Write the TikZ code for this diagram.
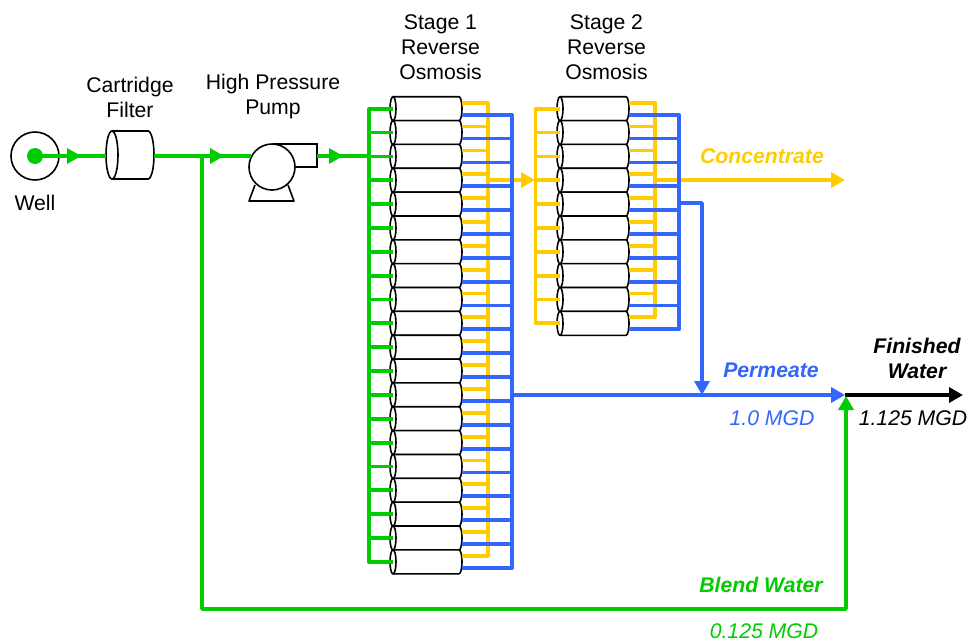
\documentclass[tikz,border=0pt]{standalone}
\usepackage{fontspec}
\setmainfont{Liberation Sans}
\usepackage{tikz}
\usetikzlibrary{arrows.meta}

\definecolor{feedgreen}{RGB}{0,204,0}
\definecolor{concyellow}{RGB}{255,204,0}
\definecolor{permblue}{RGB}{51,102,255}

\tikzset{
	pipe/.style={line width=3.8pt,line join=round},
	flow/.style={pipe,-{Triangle[length=14pt,width=15pt]}},
	unit/.style={draw=black,line width=1.6pt},
	lbl/.style={font=\fontsize{21.2}{25}\selectfont,align=center,inner sep=0pt},
	tag/.style={font=\fontsize{21.2}{25}\selectfont\itshape,inner sep=0pt},
	tagb/.style={font=\fontsize{21.2}{25}\selectfont\itshape\bfseries,align=center,inner sep=0pt},
	vessel/.pic={
		\draw[unit,fill=white] (0,-12) -- (66,-12) arc[start angle=90,end angle=-90,x radius=3pt,y radius=12pt] -- (0,12);
		\draw[unit,fill=white] (0,0) ellipse[x radius=3pt,y radius=12pt];
		\coordinate (-in) at (0,0);
		\coordinate (-con) at (68.6,-6);
		\coordinate (-per) at (68.6,6);
	},
	cartridge/.pic={
		\draw[unit,fill=white] (0,-24) -- (36,-24) arc[start angle=90,end angle=-90,x radius=6pt,y radius=24pt] -- (0,24);
		\draw[unit] (0,0) ellipse[x radius=6pt,y radius=24pt];
		\coordinate (-in) at (-6,1);
		\coordinate (-out) at (42,1);
	}
}

\begin{document}
\begin{tikzpicture}[x=1pt,y=-1pt]
		\useasboundingbox (0,0) rectangle (977,641);

		% where the pipes run
		\coordinate (wellout) at (35,156);
		\coordinate (pumpin) at (251,156);
		\coordinate (pumpout) at (317,156);
		\coordinate (tee) at (202,156);
		\coordinate (feedin) at (369,156);
		\coordinate (conca) at (488,180);
		\coordinate (concb) at (655,180);
		\coordinate (conctip) at (535,180);
		\coordinate (concend) at (845,180);
		\coordinate (perma) at (512,395);
		\coordinate (permb) at (679,203);
		\coordinate (permbend) at (702,203);
		\coordinate (join) at (845,395);
		\coordinate (product) at (963,395);
		\coordinate (blenda) at (202,609);
		\coordinate (blendb) at (846,609);
		\coordinate (blendtip) at (846,396);
		\coordinate (bussb) at (535.5,0);

		% equipment on the feed line
		\node[unit,circle,minimum size=48pt,inner sep=0pt] (well) at (wellout) {};
		\pic (filter) at (112,155) {cartridge};
		\node[unit,circle,minimum size=46pt,inner sep=0pt] (pump) at (272,167) {};
		\node[inner sep=0pt] (pumptop) at (272,144) {};

		% pump casing and feet
		\draw[unit] (pumptop) -- (317,144) -- (317,167) -- (pump.east);
		\draw[unit,line join=round] (255,185) -- (249,201) -- (294,201) -- (288,185);

		% pressure vessels
		\foreach \i in {0,...,19}
			\pic (sa\i) at (393,108.7+\i*23.85) {vessel};
		\foreach \i in {0,...,9}
			\pic (sb\i) at (560,108.7+\i*23.85) {vessel};

		% concentrate
		\draw[pipe,concyellow] (sa0-con) -| (conca |- sa19-con) -- (sa19-con);
		\foreach \i in {1,...,18}
			\draw[pipe,concyellow] (sa\i-con) -- (sa\i-con -| conca);
		\draw[pipe,concyellow] (sb0-con) -| (concb |- sb9-con) -- (sb9-con);
		\foreach \i in {1,...,8}
			\draw[pipe,concyellow] (sb\i-con) -- (sb\i-con -| concb);
		\draw[flow,concyellow] (conca) -- (conctip);
		\draw[flow,concyellow] (concb) -- (concend);
		\draw[pipe,concyellow] (sb0-in) -- (sb0-in -| bussb) -- (sb9-in -| bussb) -- (sb9-in);
		\foreach \i in {1,...,8}
			\draw[pipe,concyellow] (sb\i-in -| bussb) -- (sb\i-in);

		% permeate
		\draw[pipe,permblue] (sa0-per) -| (perma |- sa19-per) -- (sa19-per);
		\foreach \i in {1,...,18}
			\draw[pipe,permblue] (sa\i-per) -- (sa\i-per -| perma);
		\draw[pipe,permblue] (sb0-per) -| (permb |- sb9-per) -- (sb9-per);
		\foreach \i in {1,...,8}
			\draw[pipe,permblue] (sb\i-per) -- (sb\i-per -| permb);
		\draw[flow,permblue] (permb) -- (permbend) -- (permbend |- perma);
		\draw[flow,permblue] (perma) -- (join);

		% feed
		\draw[pipe,feedgreen] (wellout) -- (filter-in);
		\draw[pipe,feedgreen] (filter-out) -- (pumpin);
		\draw[pipe,feedgreen] (pumpout) -- (feedin);
		\fill[feedgreen] (wellout) circle (8pt);
		\draw[flow,feedgreen] (60,156) -- (81,156);
		\draw[flow,feedgreen] (203,156) -- (224,156);
		\draw[flow,feedgreen] (322,156) -- (343,156);
		\draw[pipe,feedgreen] (sa0-in) -| (feedin |- sa19-in) -- (sa19-in);
		\foreach \i in {1,...,18}
			\draw[pipe,feedgreen] (sa\i-in -| feedin) -- (sa\i-in);

		% blend and product
		\draw[flow,black] (join) -- (product);
		\draw[flow,feedgreen] (tee) -- (blenda) -- (blendb) -- (blendtip);

		% labels
		\node[lbl] (welllbl) at (35,203) {Well};
		\node[lbl] (filterlbl) at (130,97) {Cartridge\\Filter};
		\node[lbl] (pumplbl) at (273,97) {High Pressure\\Pump};
		\node[lbl] (salbl) at (440.5,47) {Stage 1\\Reverse\\Osmosis};
		\node[lbl] (sblbl) at (606.5,47) {Stage 2\\Reverse\\Osmosis};
		\node[tagb,concyellow] (conclbl) at (762,156) {Concentrate};
		\node[tagb,permblue] (permlbl) at (771,370) {Permeate};
		\node[tag,permblue] (mgdb) at (772,418) {1.0 MGD};
		\node[tagb] (finlbl) at (917,358) {Finished\\Water};
		\node[tag] (mgdc) at (913,418) {1.125 MGD};
		\node[tagb,feedgreen] (blendlbl) at (761,585) {Blend Water};
		\node[tag,feedgreen] (mgdd) at (764,631) {0.125 MGD};
	\end{tikzpicture}
\end{document}
